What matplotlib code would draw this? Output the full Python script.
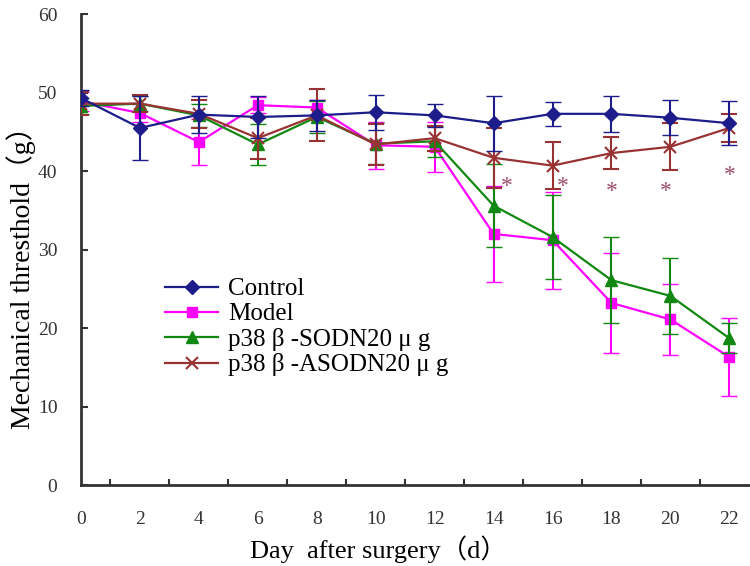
import matplotlib
matplotlib.use("Agg")
import matplotlib.pyplot as plt
from matplotlib.lines import Line2D

plt.rcParams['font.family'] = ['Liberation Serif', 'Noto Sans CJK SC', 'DejaVu Sans']

# data
days = [0, 2, 4, 6, 8, 10, 12, 14, 16, 18, 20, 22]

control = [49.3, 45.5, 47.2, 46.9, 47.1, 47.5, 47.1, 46.1, 47.3, 47.3, 46.8, 46.1]
control_err = [1.0, 4.1, 2.4, 2.7, 2.0, 2.2, 1.5, 3.5, 1.5, 2.3, 2.2, 2.8]

model = [48.9, 47.4, 43.7, 48.4, 48.1, 43.3, 43.1, 32.0, 31.2, 23.2, 21.1, 16.3]
model_err = [1.2, 1.2, 2.9, 1.0, 0.9, 3.0, 3.2, 6.1, 6.2, 6.4, 4.5, 5.0]

sodn = [48.3, 48.6, 47.1, 43.4, 46.9, 43.5, 43.8, 35.6, 31.6, 26.1, 24.1, 18.7]
sodn_err = [1.0, 1.0, 1.5, 2.6, 2.0, 2.6, 2.0, 5.3, 5.4, 5.5, 4.8, 1.9]

asodn = [48.6, 48.6, 47.3, 44.2, 47.1, 43.4, 44.2, 41.7, 40.7, 42.3, 43.1, 45.5]
asodn_err = [1.5, 1.1, 1.8, 2.6, 3.3, 2.6, 1.6, 3.8, 3.0, 2.0, 3.0, 1.8]

star_x = [14.45, 16.35, 18.0, 19.85, 22.0]
star_y = [38.0, 38.0, 37.4, 37.4, 39.4]

fig = plt.figure(figsize=(7.5, 5.66), dpi=100)
ax = fig.add_axes([0.108, 0.143, 0.892, 0.832])

series = [
    ("Control", control, control_err, "#1c1c8a", "D", 7, 5),
    ("Model", model, model_err, "#ff00ff", "s", 7, 2),
    ("p38 β -SODN20 μ g", sodn, sodn_err, "#118811", "^", 8, 3),
    ("p38 β -ASODN20 μ g", asodn, asodn_err, "#993333", "x", 8, 4),
]

handles = []
for label, vals, err, col, mk, ms, z in series:
    mew = 1.5 if mk == "x" else 1
    ax.errorbar(days, vals, yerr=err, color=col, marker=mk, markersize=ms,
                markeredgewidth=mew, linewidth=1.6,
                elinewidth=1.5, capsize=6, capthick=1.5, zorder=z)
    handles.append(Line2D([], [], color=col, marker=mk, markersize=ms,
                          markeredgewidth=mew, linewidth=1.6, label=label))

# significance marks
for x, y in zip(star_x, star_y):
    ax.text(x, y, "*", color="#a04a6a", fontsize=17, ha="center", va="center")

ax.set_xlim(0, 22.7)
ax.set_ylim(0, 60)

ax.set_yticks([0, 10, 20, 30, 40, 50, 60])
ax.set_xticks([1, 3, 5, 7, 9, 11, 13, 15, 17, 19, 21])
ax.set_xticklabels([])
ax.set_xticks(days, minor=True)
ax.set_xticklabels([str(d) for d in days], minor=True)
ax.tick_params(axis="x", which="major", direction="in", length=4, width=1.5, color="#333333")
ax.tick_params(axis="x", which="minor", length=0, pad=19, labelsize=14, labelcolor="#333333")
ax.tick_params(axis="y", direction="in", length=5, width=1.5, color="#333333",
               pad=17, labelsize=14, labelcolor="#333333")

for s in ["top", "right"]:
    ax.spines[s].set_visible(False)
for s in ["left", "bottom"]:
    ax.spines[s].set_linewidth(2)
    ax.spines[s].set_color("#333333")

ax.set_xlabel("Day  after surgery（d）", fontsize=19)
ax.set_ylabel("Mechanical thresthold（g）", fontsize=20)
ax.xaxis.set_label_coords(0.445, -0.106)
ax.yaxis.set_label_coords(-0.068, 0.455)

ax.legend(handles=handles, loc="upper left", bbox_to_anchor=(0.126, 0.44),
          frameon=False, fontsize=18, handlelength=2.1, handletextpad=0.4,
          labelspacing=0.1, borderaxespad=0, borderpad=0)

fig.savefig("out.png", dpi=100)
